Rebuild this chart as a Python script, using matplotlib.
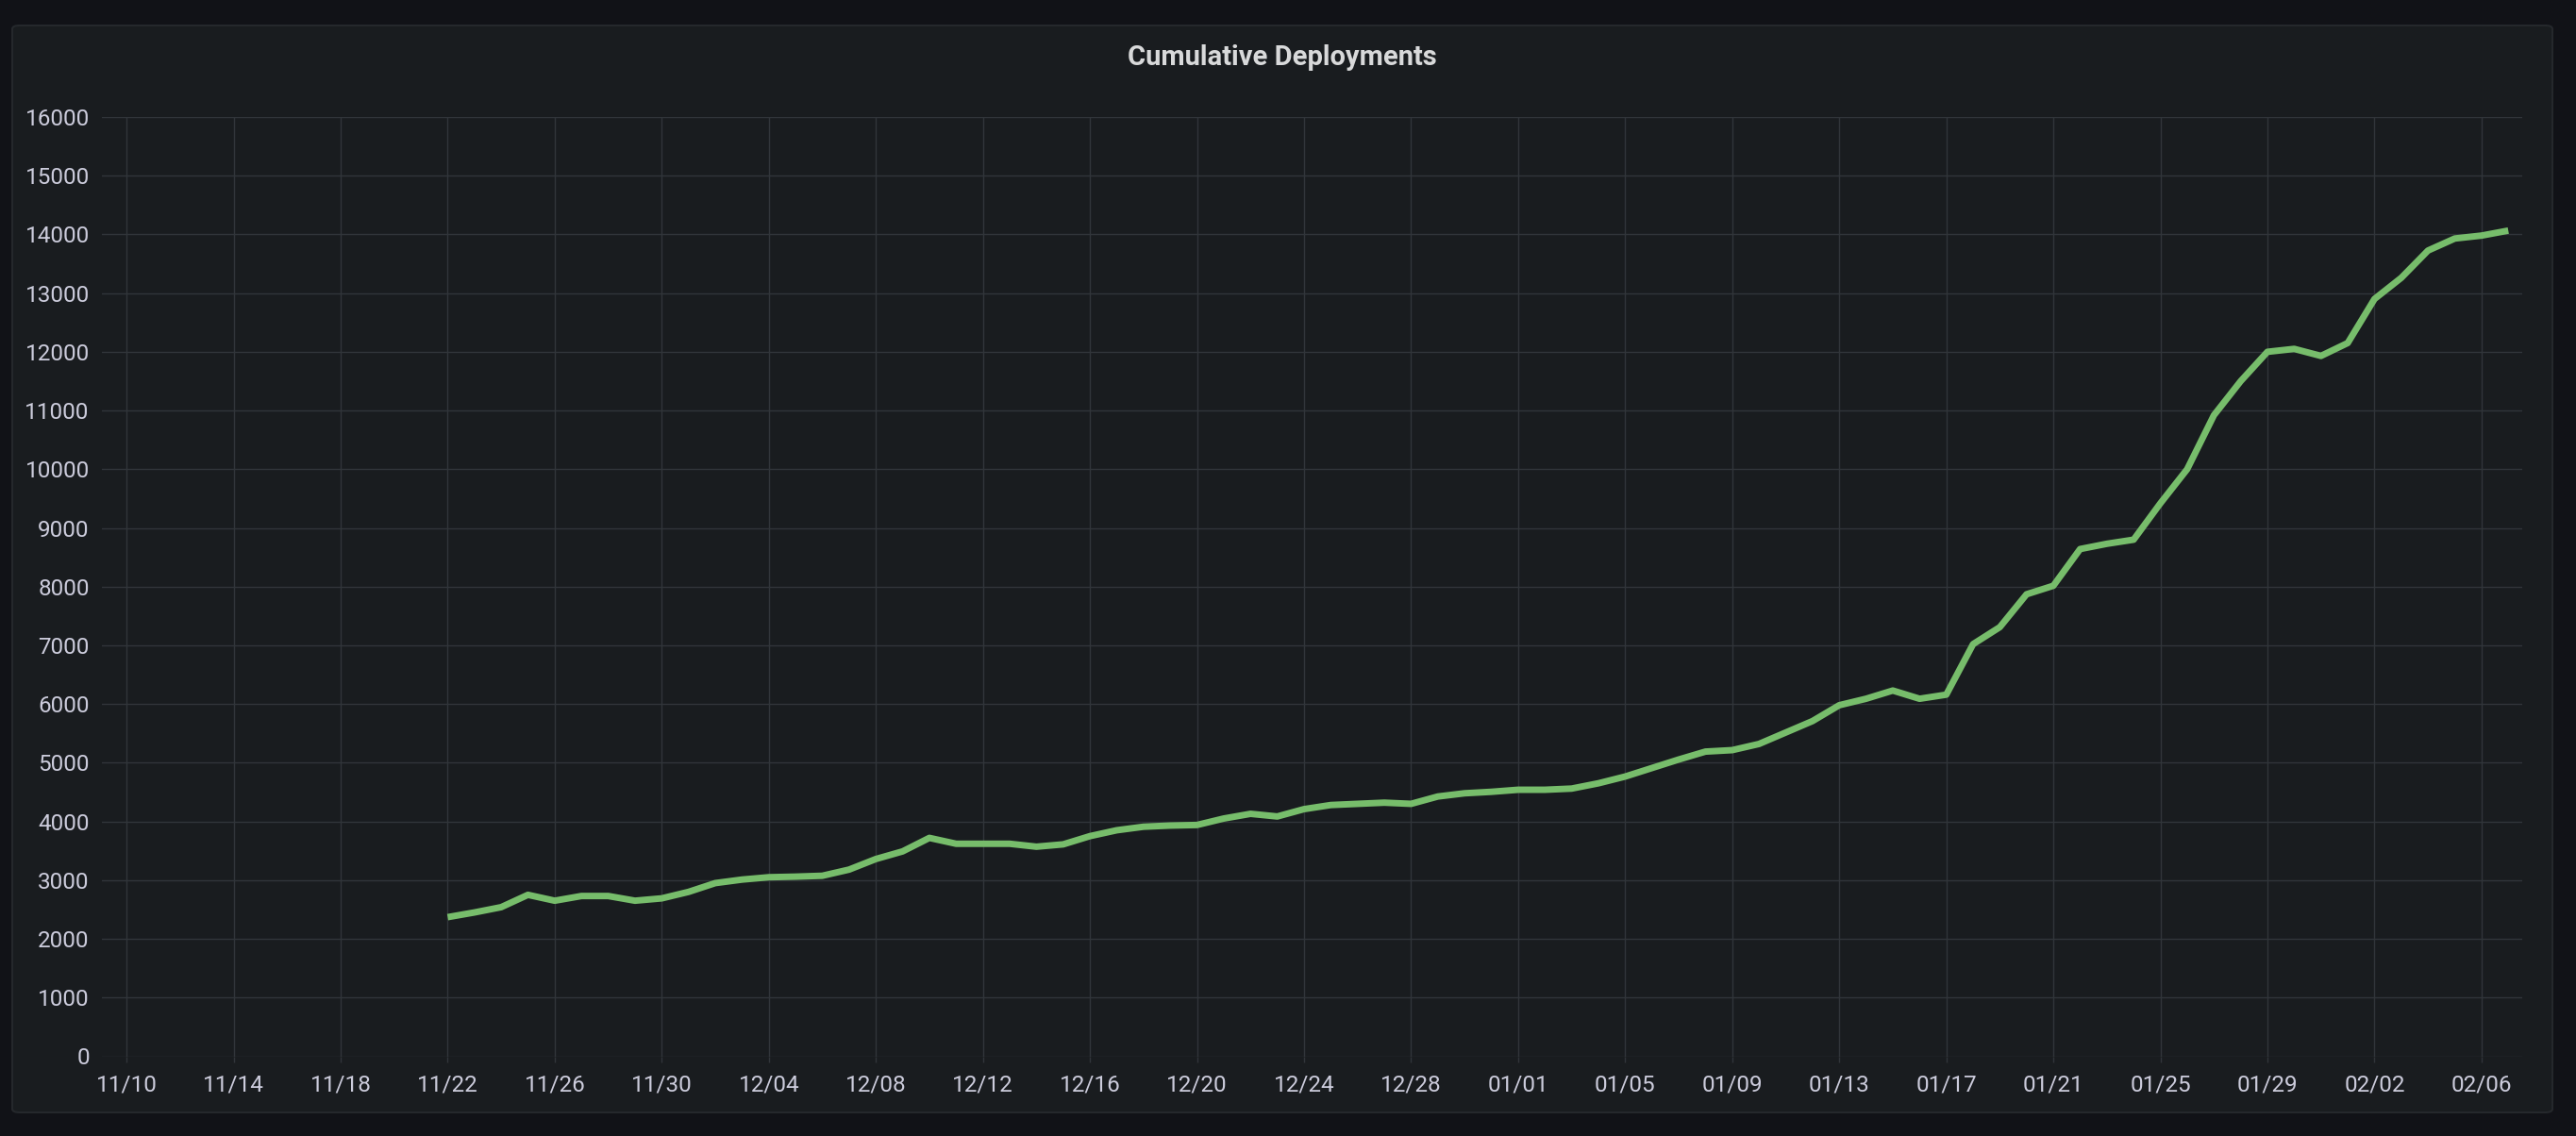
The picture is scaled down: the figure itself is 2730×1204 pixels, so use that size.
import matplotlib
matplotlib.use("Agg")
import matplotlib.pyplot as plt
import matplotlib.dates as mdates
from matplotlib.patches import FancyBboxPatch
import numpy as np
import pandas as pd

# daily cumulative deployment counts
start_date = "2021-11-22"
deployments = [
    2370, 2450, 2540, 2750, 2650, 2730, 2730, 2650, 2690, 2800,
    2950, 3010, 3050, 3060, 3075, 3180, 3360, 3490, 3720, 3620,
    3620, 3620, 3570, 3610, 3750, 3850, 3910, 3930, 3940, 4050,
    4130, 4085, 4210, 4280, 4300, 4320, 4300, 4425, 4480, 4505,
    4540, 4540, 4560, 4650, 4765, 4910, 5055, 5190, 5215, 5320,
    5515, 5710, 5980, 6090, 6230, 6090, 6160, 7020, 7310, 7870,
    8015, 8640, 8730, 8800, 9420, 10000, 10920, 11500, 12000, 12050,
    11930, 12150, 12900, 13260, 13725, 13930, 13980, 14065,
]
title = "Cumulative Deployments"
tick_start, tick_end = "2021-11-10", "2022-02-06"
y_ticks = list(range(0, 16001, 1000))

dates = pd.date_range(start_date, periods=len(deployments), freq="D")
x_ticks = pd.date_range(tick_start, tick_end, freq="4D")

BG = "#111217"
PANEL = "#191c1f"
BORDER = "#25282c"
GRID = "#31353a"
TEXT = "#ccccdc"
GREEN = "#77bd6b"

W, H = 2730, 1204
fig = plt.figure(figsize=(W / 100, H / 100), dpi=100)
fig.patch.set_facecolor(BG)

# panel card, kept behind the axes
panel = FancyBboxPatch(
    (13 / W, 1 - 1179 / H), (2705 - 13) / W, (1179 - 27) / H,
    boxstyle="round,pad=0,rounding_size=0.003",
    transform=fig.transFigure, facecolor=PANEL, edgecolor=BORDER,
    linewidth=1.5, zorder=-5,
)
fig.patches.append(panel)

fig.text(1359 / W, 1 - 61 / H, title, ha="center", va="center",
         color="#d8d9da", fontsize=21, fontweight="bold", family="Roboto",
         zorder=5)

ax = fig.add_axes([108 / W, 1 - 1119.5 / H, (2673 - 108) / W, (1119.5 - 124) / H])
ax.set_zorder(2)
ax.set_facecolor(PANEL)

ax.plot(dates, deployments, color=GREEN, linewidth=5.0,
        solid_joinstyle="round", solid_capstyle="butt", zorder=3)

left = pd.Timestamp(tick_start) - pd.Timedelta(days=0.92)
right = pd.Timestamp(tick_end) + pd.Timedelta(days=1.52)
ax.set_xlim(left, right)
ax.set_ylim(0, 16000)

ax.set_xticks(x_ticks)
ax.xaxis.set_major_formatter(mdates.DateFormatter("%m/%d"))
ax.set_yticks(y_ticks)

ax.grid(True, color=GRID, linewidth=1.0)
ax.set_axisbelow(True)
for s in ax.spines.values():
    s.set_visible(False)

ax.tick_params(axis="x", colors=TEXT, length=4.5, width=1.0, color=GRID,
               pad=9, labelsize=17.5)
ax.tick_params(axis="y", colors=TEXT, length=0, pad=9.5, labelsize=17.5)
for lab in ax.get_xticklabels() + ax.get_yticklabels():
    lab.set_family("Roboto")

fig.savefig("out.png", dpi=100, facecolor=BG)
